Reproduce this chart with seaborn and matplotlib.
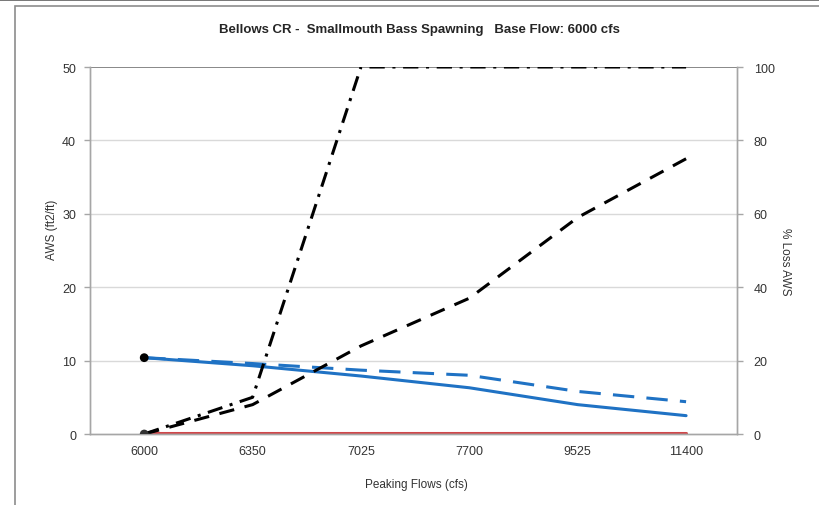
import seaborn as sns
import matplotlib.pyplot as plt
import pandas as pd
from matplotlib.patches import Rectangle

# data
flows = ["6000", "6350", "7025", "7700", "9525", "11400"]
aws_peak = [10.4, 9.3, 7.9, 6.3, 4.0, 2.5]        # blue solid, left axis
aws_base = [10.4, 9.6, 8.7, 8.0, 5.8, 4.4]        # blue dashed, left axis
aws_other = [0.1, 0.1, 0.1, 0.1, 0.1, 0.1]        # red, left axis
loss_a = [0, 8, 24, 37, 59, 75]                   # black dashed, right axis (%)
loss_b = [0, 10, 100, 100, 100, 100]              # black dash-dot, right axis (%)

df = pd.DataFrame({"pos": range(len(flows)), "flow": flows,
                   "aws_peak": aws_peak, "aws_base": aws_base, "aws_other": aws_other,
                   "loss_a": loss_a, "loss_b": loss_b})

sns.set_style("white")
plt.rcParams['font.family'] = ['Liberation Sans', 'DejaVu Sans']

fig = plt.figure(figsize=(8.2, 5.06), dpi=100)
ax = fig.add_axes([0.1098, 0.1403, 0.789, 0.7253])
ax2 = ax.twinx()

# outer chart frame
fig.patches.append(Rectangle((15/820, -0.02), 1.0, 1 - 7/506 + 0.02, transform=fig.transFigure,
                             fill=False, edgecolor="#8c8c8c", lw=1.2, zorder=0))
fig.add_artist(plt.Line2D([0, 1], [1 - 1/506, 1 - 1/506], transform=fig.transFigure, color="#606060", lw=1.2))

blue = "#1f72c4"
sns.lineplot(data=df, x="pos", y="aws_other", ax=ax, color="#d0474a", lw=2.2)
sns.lineplot(data=df, x="pos", y="aws_base", ax=ax, color=blue, lw=2.2, dashes=False,
             linestyle=(0, (7, 4)))
sns.lineplot(data=df, x="pos", y="aws_peak", ax=ax, color=blue, lw=2.2)
sns.scatterplot(data=df.iloc[:1], x="pos", y="aws_peak", ax=ax, color="black", s=40, zorder=5, edgecolor="none")

sns.lineplot(data=df, x="pos", y="loss_a", ax=ax2, color="black", lw=2.2, linestyle=(0, (5, 3.5)))
sns.lineplot(data=df, x="pos", y="loss_b", ax=ax2, color="black", lw=2.2, linestyle=(0, (5, 2.5, 1, 2.5)))
sns.scatterplot(data=df.iloc[:1], x="pos", y="loss_a", ax=ax2, color="#333333", s=40, zorder=5, edgecolor="none")

ax.set_xlim(-0.5, 5.47)
ax.set_ylim(0, 50)
ax2.set_ylim(0, 100)
ax.set_xticks(range(len(flows)))
ax.set_xticklabels(flows)
ax.set_yticks([0, 10, 20, 30, 40, 50])
ax2.set_yticks([0, 20, 40, 60, 80, 100])

for y in [10, 20, 30, 40]:
    ax.axhline(y, color="#d9d9d9", lw=1, zorder=0)
ax.axhline(50, color="#7f7f7f", lw=1.3, zorder=0)

for a in (ax, ax2):
    a.spines["top"].set_visible(False)
    for s in ["left", "right", "bottom"]:
        a.spines[s].set_color("#a6a6a6")
        a.spines[s].set_linewidth(1.0)
    a.tick_params(labelsize=9, colors="#a6a6a6", labelcolor="#333333", length=4, width=1)
    a.set_xlabel("")
    a.set_ylabel("")
ax.tick_params(axis="x", length=0, pad=8)
ax.tick_params(axis="y", pad=6)
ax2.tick_params(axis="y", pad=8)

fig.text(0.512, 1 - 30/506, "Bellows CR -  Smallmouth Bass Spawning   Base Flow: 6000 cfs",
         ha="center", va="center", fontsize=9.5, fontweight="bold")
fig.text(0.508, 1 - 485/506, "Peaking Flows (cfs)", ha="center", va="center", fontsize=8.5, color="#333333")
fig.text(52/820, 1 - 230/506, "AWS (ft2/ft)", ha="center", va="center", rotation=90, fontsize=8.5, color="#333333")
fig.text(785/820, 1 - 262/506, "% Loss AWS", ha="center", va="center", rotation=270, fontsize=8.5, color="#333333")

fig.savefig("out.png", dpi=100)
